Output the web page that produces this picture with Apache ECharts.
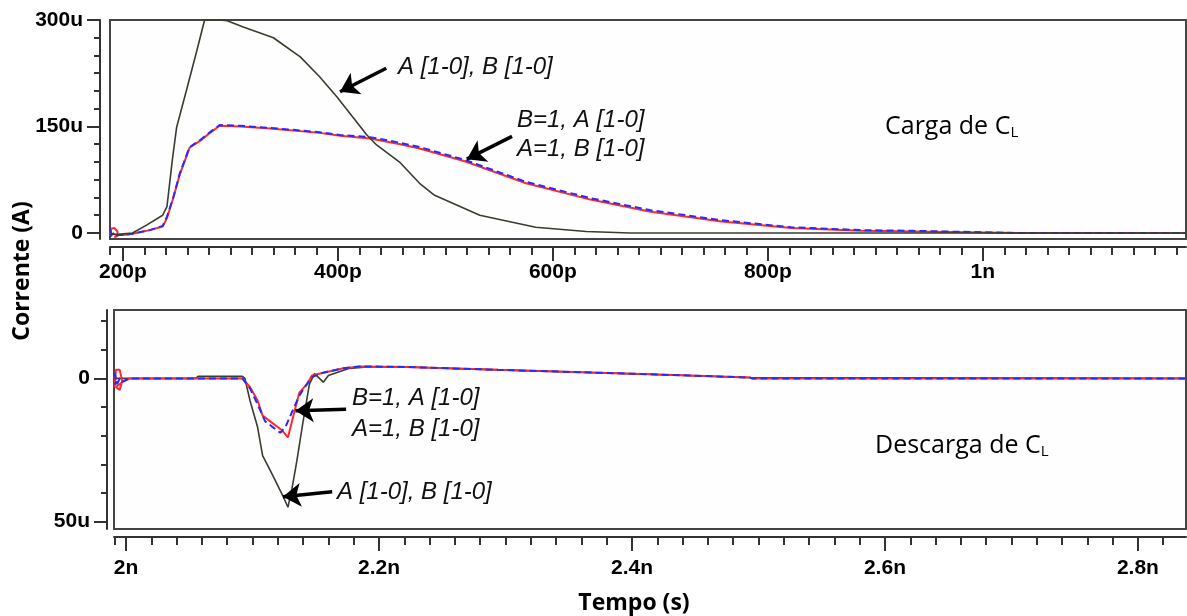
<!DOCTYPE html>
<html>
<head>
<meta charset="utf-8">
<script src="https://cdn.jsdelivr.net/npm/echarts@6/dist/echarts.min.js"></script>
<style>
html,body{margin:0;padding:0;background:#fff;}
#c{width:1187px;height:616px;}
</style>
</head>
<body>
<div id="c"></div>
<script>
// ---- Top panel (Carga de CL): time in ps, current in uA ----
var topBlackX = [188, 195, 209, 222, 237, 241, 246, 250, 260, 269, 276, 290, 297, 312, 340, 365, 383, 399, 414, 427, 436, 458, 476, 490, 532, 584, 631, 672, 1189];
var topBlackY = [-2, -2, 0, 11, 25, 37, 103, 149, 206, 258, 300, 300, 299, 290, 275, 248, 220, 192, 163, 138, 124, 99, 70, 53, 25, 8, 2, 0, 0];

var topRedX = [188, 189, 192, 195, 195, 192, 196, 200, 209, 225, 237, 241, 247, 253, 262, 272, 281, 290, 309, 337, 383, 402, 430, 458, 476, 518, 575, 635, 691, 757, 822, 887, 935, 1033, 1040, 1189];
var topRedY = [-4, 6, 7, 2, -4, -6, -3, -3, -1, 4, 9, 21, 50, 83, 120, 130, 141, 151, 150, 147, 141, 137, 133, 125, 119, 101, 70, 47, 30, 16, 7, 3, 2, 0, 0, 0];

var topBlueX = [188, 190, 192, 188, 196, 200, 209, 225, 237, 241, 247, 253, 262, 272, 281, 290, 309, 337, 383, 402, 430, 458, 476, 518, 575, 635, 691, 757, 822, 887, 935, 1033, 1189];
var topBlueY = [6, -4, 0, -4, -3, -3, -1, 4, 10, 23, 51, 84, 121, 131, 142, 152, 151, 148, 142, 138, 135, 127, 121, 103, 72, 49, 32, 18, 8, 4, 3, 0, 0];

// ---- Bottom panel (Descarga de CL) ----
var botBlackX = [1991, 2003, 2055, 2057, 2092, 2094, 2098, 2104, 2108, 2115, 2124, 2128, 2131, 2135, 2140, 2145, 2149, 2156, 2160, 2176, 2191, 2221, 2294, 2373, 2493, 2838];
var botBlackY = [0, 0, 0, 0.7, 0.7, 0, -7.7, -17, -27, -33, -41, -45, -39, -29, -15, -2, 1.7, -1.3, 1, 3.5, 4, 4, 3, 2, 0.3, 0];

var botRedX = [1991, 1992, 1995, 1997, 1995, 1992, 1998, 2003, 2092, 2098, 2104, 2108, 2114, 2123, 2128, 2132, 2137, 2143, 2147, 2156, 2171, 2185, 2221, 2294, 2373, 2395, 2446, 2493, 2495, 2838];
var botRedY = [-3, 3, 3, -1, -4, -3, -1, 0, 0, -3, -7.7, -13, -15, -18, -20.6, -13.6, -5, -2, 1, 2, 3.5, 4.2, 4, 3, 2, 1.7, 1, 0.3, 0, 0];

var botBlueX = [1991, 1993, 1995, 1991, 1998, 2003, 2092, 2098, 2104, 2110, 2116, 2122, 2126, 2131, 2137, 2143, 2147, 2156, 2171, 2185, 2221, 2294, 2373, 2395, 2446, 2493, 2495, 2838];
var botBlueY = [2, -2, 0, -2, -1, 0, 0, -3.5, -9, -15, -17, -19, -17, -12, -6, -2, 0.5, 2, 3.5, 4.2, 4, 3, 2, 1.7, 1, 0.3, 0, 0];

// ---- Axis ticks / labels ----
var topXLabels = [200, 400, 600, 800, 1000];
var topXMinor = [188, 220, 240, 260, 280, 300, 320, 340, 360, 380, 420, 440, 460, 480, 500, 520, 540, 560, 580, 620, 640, 660, 680, 700, 720, 740, 760, 780, 820, 840, 860, 880, 900, 920, 940, 960, 980, 1020, 1040, 1060, 1080, 1100, 1120, 1140, 1160, 1180];
var topYLabels = [0, 150, 300];
var topYMinor = [25, 50, 75, 100, 125, 175, 200, 225, 250, 275];
var botXLabels = [2000, 2200, 2400, 2600, 2800];
var botXMinor = [1991, 2020, 2040, 2060, 2080, 2100, 2120, 2140, 2160, 2180, 2220, 2240, 2260, 2280, 2300, 2320, 2340, 2360, 2380, 2420, 2440, 2460, 2480, 2500, 2520, 2540, 2560, 2580, 2620, 2640, 2660, 2680, 2700, 2720, 2740, 2760, 2780, 2820];
var botYLabels = [0, -50];
var botYMinor = [20, 10, -10, -20, -30, -40];

// annotation arrows (data coordinates: [tail, tip])
var topArrows = [[[445, 232], [402, 199]], [[562, 136], [520, 104]]];
var botArrows = [[[2174, -10.8], [2134, -11.3]], [[2163, -39.6], [2124, -41.3]]];

function zip(xs, ys) { return xs.map(function (x, i) { return [x, ys[i]]; }); }

var chart = echarts.init(document.getElementById('c'));
var FONT = '"Liberation Sans", Arial, sans-serif';
var lblStyle = { color: '#000', fontSize: 21, fontWeight: 'bold', fontFamily: FONT };
var axisLineStyle = { show: true, onZero: false, lineStyle: { color: '#333', width: 2 } };

function majorX(grid, min, max, labels, fmt, margin) {
  return {
    type: 'value', gridIndex: grid, min: min, max: max, position: 'bottom', offset: 8,
    splitLine: { show: false }, axisLine: axisLineStyle,
    axisTick: { show: true, customValues: labels, length: 14, lineStyle: { color: '#333', width: 2 } },
    axisLabel: Object.assign({ customValues: labels, margin: margin, formatter: fmt }, lblStyle)
  };
}
function minorX(grid, min, max, ticks) {
  return {
    type: 'value', gridIndex: grid, min: min, max: max, position: 'bottom', offset: 8,
    splitLine: { show: false }, axisLine: { show: false, onZero: false },
    axisTick: { show: true, customValues: ticks, length: 8, lineStyle: { color: '#333', width: 2 } },
    axisLabel: { show: false }
  };
}
function majorY(grid, min, max, labels, fmt, off) {
  return {
    type: 'value', gridIndex: grid, min: min, max: max, position: 'left', offset: off,
    splitLine: { show: false }, axisLine: axisLineStyle,
    axisTick: { show: true, customValues: labels, length: 13, lineStyle: { color: '#333', width: 2 } },
    axisLabel: Object.assign({ customValues: labels, margin: 17, formatter: fmt }, lblStyle)
  };
}
function minorY(grid, min, max, ticks, off) {
  return {
    type: 'value', gridIndex: grid, min: min, max: max, position: 'left', offset: off,
    splitLine: { show: false }, axisLine: { show: false, onZero: false },
    axisTick: { show: true, customValues: ticks, length: 6, lineStyle: { color: '#333', width: 2 } },
    axisLabel: { show: false }
  };
}

var blackStyle = { color: '#3b3b2e', width: 1.6 };
var redStyle = { color: '#ff2a2a', width: 2 };
var blueStyle = { color: '#2a2aff', width: 2, type: [7, 4] };

function arrowLine(arrows) {
  return {
    silent: true, symbol: ['none', 'arrow'], symbolSize: 18,
    lineStyle: { color: '#000', width: 3.5, type: 'solid' },
    itemStyle: { color: '#000' },
    label: { show: false },
    emphasis: { disabled: true },
    data: arrows.map(function (a) { return [{ coord: a[0] }, { coord: a[1] }]; })
  };
}

function mkSeries(x, y, xi, yi, style, extra) {
  return Object.assign({
    type: 'line', xAxisIndex: xi, yAxisIndex: yi, data: zip(x, y),
    showSymbol: false, symbol: 'none', lineStyle: style, animation: false, clip: true
  }, extra || {});
}

var ann = { fontStyle: 'italic', fontSize: 24, fontFamily: FONT, fill: '#111', verticalAlign: 'middle' };
function t(text, x, y) { return { type: 'text', x: x, y: y, style: Object.assign({ text: text }, ann), z: 100 }; }

var option = {
  animation: false,
  backgroundColor: '#ffffff',
  grid: [
    { left: 110, top: 20, right: 1, height: 219, show: true, borderColor: '#444', borderWidth: 2, backgroundColor: '#fefefe' },
    { left: 114, top: 310, right: 1, height: 219, show: true, borderColor: '#444', borderWidth: 2, backgroundColor: '#fefefe' }
  ],
  xAxis: [
    majorX(0, 188, 1189, topXLabels, function (v) { return v >= 1000 ? (v / 1000) + 'n' : v + 'p'; }, 15),
    minorX(0, 188, 1189, topXMinor),
    majorX(1, 1990.5, 2838, botXLabels, function (v) { return (v / 1000) + 'n'; }, 21),
    minorX(1, 1990.5, 2838, botXMinor)
  ],
  yAxis: [
    majorY(0, -8.5, 300, topYLabels, function (v) { return v === 0 ? '0' : v + 'u'; }, 10),
    minorY(0, -8.5, 300, topYMinor, 10),
    majorY(1, -52.6, 23.9, botYLabels, function (v) { return v === 0 ? '0' : Math.abs(v) + 'u'; }, 7),
    minorY(1, -52.6, 23.9, botYMinor, 7)
  ],
  series: [
    mkSeries(topRedX, topRedY, 0, 0, redStyle),
    mkSeries(topBlueX, topBlueY, 0, 0, blueStyle),
    mkSeries(topBlackX, topBlackY, 0, 0, blackStyle, { markLine: arrowLine(topArrows) }),
    mkSeries(botBlackX, botBlackY, 2, 2, blackStyle, { markLine: arrowLine(botArrows) }),
    mkSeries(botRedX, botRedY, 2, 2, redStyle),
    mkSeries(botBlueX, botBlueY, 2, 2, blueStyle)
  ],
  graphic: [
    t('A [1-0], B [1-0]', 398, 67),
    t('B=1, A [1-0]', 517, 120),
    t('A=1, B [1-0]', 517, 149),
    t('B=1, A [1-0]', 352, 398),
    t('A=1, B [1-0]', 352, 429),
    t('A [1-0], B [1-0]', 337, 492),
    { type: 'text', x: 885, y: 127, z: 100, style: { text: '{a|Carga de C}{b|L}', verticalAlign: 'middle',
      rich: { a: { fontSize: 25, fontFamily: '"Open Sans", sans-serif', fill: '#000', color: '#000' },
              b: { fontSize: 15, fontFamily: '"Open Sans", sans-serif', fill: '#000', color: '#000', padding: [12, 0, 0, 0] } } } },
    { type: 'text', x: 875, y: 446, z: 100, style: { text: '{a|Descarga de C}{b|L}', verticalAlign: 'middle',
      rich: { a: { fontSize: 25, fontFamily: '"Open Sans", sans-serif', fill: '#000', color: '#000' },
              b: { fontSize: 15, fontFamily: '"Open Sans", sans-serif', fill: '#000', color: '#000', padding: [12, 0, 0, 0] } } } },
    { type: 'text', x: 22, y: 271, rotation: Math.PI / 2, z: 100,
      style: { text: 'Corrente (A)', fontSize: 23, fontWeight: 'bold', fontFamily: '"Open Sans", sans-serif', fill: '#000', align: 'center', verticalAlign: 'middle' } },
    { type: 'text', x: 634, y: 603, z: 100,
      style: { text: 'Tempo (s)', fontSize: 23, fontWeight: 'bold', fontFamily: '"Open Sans", sans-serif', fill: '#000', align: 'center', verticalAlign: 'middle' } }
  ]
};
chart.setOption(option);
</script>
</body>
</html>
